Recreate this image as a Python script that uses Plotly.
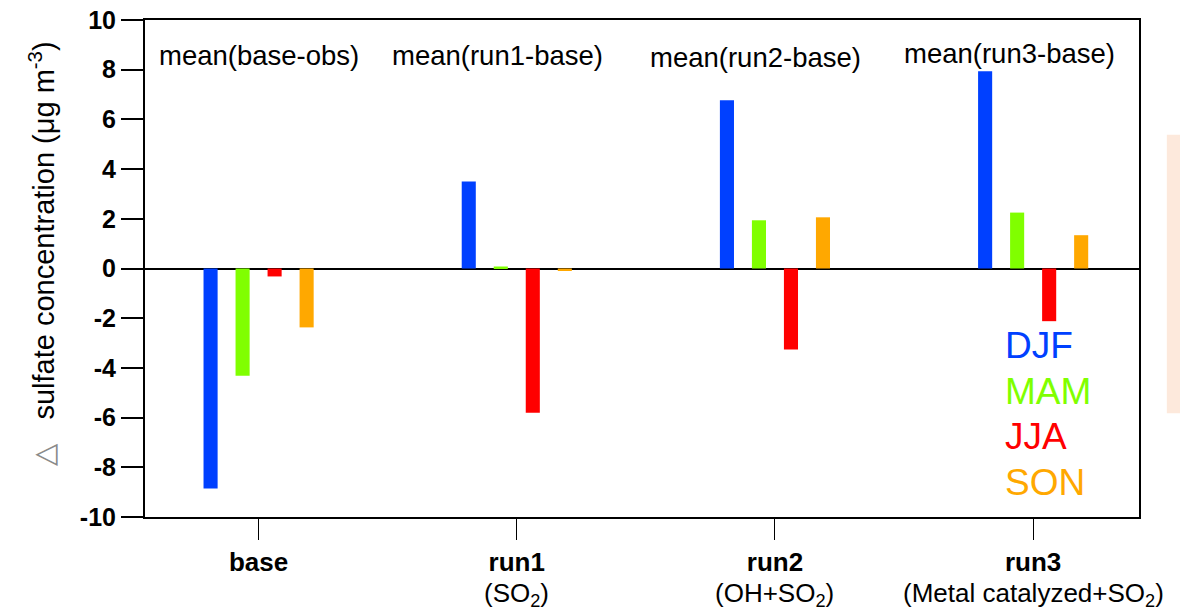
import plotly.graph_objects as go

categories = ["base", "run1", "run2", "run3"]
sub_labels = ["", "(SO<sub>2</sub>)", "(OH+SO<sub>2</sub>)", "(Metal catalyzed+SO<sub>2</sub>)"]
seasons = ["DJF", "MAM", "JJA", "SON"]
values = {
    "DJF": [-8.85, 3.5, 6.77, 7.94],
    "MAM": [-4.32, 0.08, 1.94, 2.25],
    "JJA": [-0.32, -5.8, -3.26, -2.12],
    "SON": [-2.37, -0.1, 2.06, 1.34],
}
colors = {"DJF": "#0040FF", "MAM": "#80FF00", "JJA": "#FF0000", "SON": "#FFA800"}
mean_labels = ["mean(base-obs)", "mean(run1-base)", "mean(run2-base)", "mean(run3-base)"]
mean_label_y = [8.58, 8.58, 8.5, 8.66]
mean_label_x = [0.0, 0.926, 1.926, 2.907]
y_ticks = list(range(-10, 11, 2))

fig = go.Figure()
for s in seasons:
    fig.add_trace(go.Bar(x=categories, y=values[s], name=s,
                         marker=dict(color=colors[s], line=dict(width=0)), showlegend=False))

for lab, xx, yy in zip(mean_labels, mean_label_x, mean_label_y):
    fig.add_annotation(x=xx, y=yy, xref="x", yref="y", text=lab, showarrow=False,
                       xanchor="center", yanchor="middle",
                       font=dict(family="Liberation Sans, Arial", size=27.5, color="black"))

legend_y = [-3.1, -4.93, -6.78, -8.6]
for s, yy in zip(seasons, legend_y):
    fig.add_annotation(x=2.885, y=yy, xref="x", yref="y", text=s, showarrow=False,
                       xanchor="left", yanchor="middle",
                       font=dict(family="Liberation Sans, Arial", size=37, color=colors[s]))

for i, sl in enumerate(sub_labels):
    if sl:
        fig.add_annotation(x=i, y=-0.156, xref="x", yref="paper", text=sl, showarrow=False,
                           xanchor="center", yanchor="middle",
                           font=dict(family="Liberation Sans, Arial", size=26, color="black"))

# y-axis title as rotated annotation
fig.add_annotation(x=-0.1045, y=0.53, xref="paper", yref="paper", textangle=-90,
                   text="<span style='color:#8a8a8a'>△</span>   sulfate concentration (μg m<sup>-3</sup>)",
                   showarrow=False, xanchor="center", yanchor="middle",
                   font=dict(family="Liberation Sans, Arial", size=29, color="black"))

fig.add_shape(type="rect", xref="paper", yref="paper", x0=1.028, x1=1.045, y0=0.209, y1=0.769,
              fillcolor="#FDE9DC", line=dict(width=0), layer="below")

fig.update_layout(
    width=1180, height=613,
    margin=dict(l=145, r=41, t=20, b=96),
    paper_bgcolor="white", plot_bgcolor="white",
    barmode="group", bargap=0.504, bargroupgap=0.56,
    font=dict(family="Liberation Sans, Arial", color="black"),
)
fig.update_xaxes(
    type="category", range=[-0.44, 3.41], automargin=False,
    tickvals=categories, ticktext=[f"<b>{c}</b>" for c in categories],
    showline=True, linecolor="black", linewidth=2, mirror=True,
    ticks="outside", ticklen=21, tickwidth=1, tickcolor="black", ticklabelstandoff=0,
    tickfont=dict(family="Liberation Sans, Arial", size=26, color="black"),
    showgrid=False,
)
fig.update_yaxes(
    range=[-10, 10], automargin=False, tickvals=y_ticks, ticktext=[f"<b>{v}</b>" for v in y_ticks],
    showline=True, linecolor="black", linewidth=2, mirror=True,
    ticks="outside", ticklen=22, tickwidth=2, tickcolor="black", ticklabeloverflow="allow",
    tickfont=dict(family="Liberation Sans, Arial", size=25, color="black"),
    showgrid=False, zeroline=True, zerolinecolor="black", zerolinewidth=2,
)

fig.write_html("out.html", config={"displayModeBar": False},
               post_script="document.body.style.margin='0px';")
